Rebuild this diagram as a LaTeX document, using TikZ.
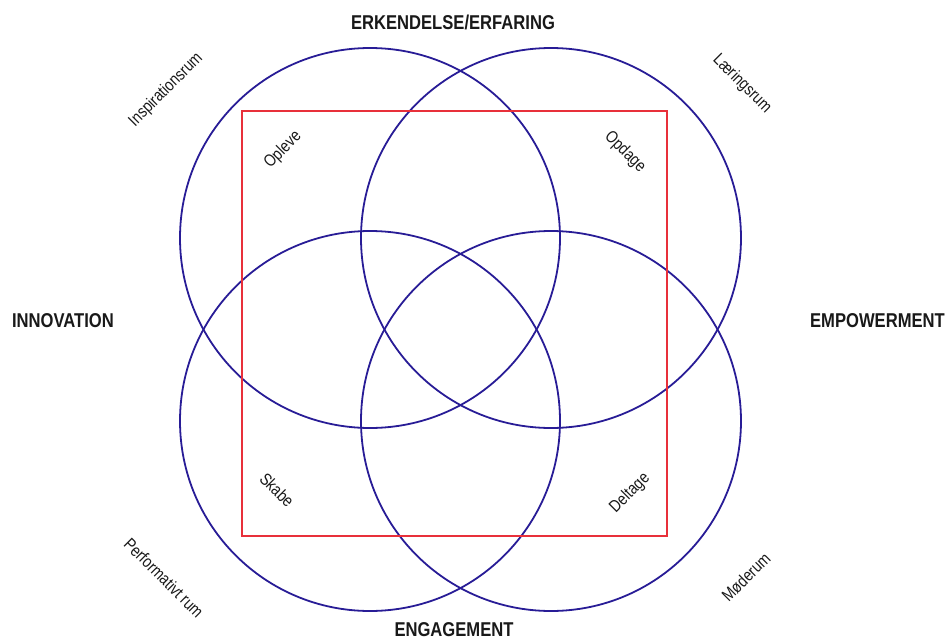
\documentclass[tikz,border=0pt]{standalone}
\usepackage{fontspec}
\newfontfamily\cond[FakeStretch=0.83]{Liberation Sans}
\definecolor{ringblue}{RGB}{40,28,150}
\definecolor{boxred}{RGB}{232,48,58}
\tikzset{
  ring/.style={circle, draw=ringblue, line width=1.8pt, minimum size=380pt, inner sep=0pt},
  frame/.style={draw=boxred, line width=1.2pt},
  head/.style={font=\cond\bfseries\fontsize{20}{22}\selectfont, text=black!90, inner sep=0pt},
  small/.style={font=\cond\fontsize{17}{19}\selectfont, text=black!90, inner sep=0pt},
}
\begin{document}
\begin{tikzpicture}[x=1pt,y=-1pt]
\useasboundingbox (0,0) rectangle (946,640);
\node[ring] (tl) at (370,238) {};
\node[ring] (tr) at (551,238) {};
\node[ring] (bl) at (370,421) {};
\node[ring] (br) at (551,421) {};
\draw[frame] (242,111) rectangle (667,536);
\node[head] (top) at (453,22) {ERKENDELSE/ERFARING};
\node[head] (left) at (63,321) {INNOVATION};
\node[head, anchor=east] (right) at (945,321) {EMPOWERMENT};
\node[head] (bottom) at (454,630) {ENGAGEMENT};
\node[small, rotate=45] (insp) at (166,90) {Inspirationsrum};
\node[small, rotate=-45] (laer) at (742,84) {Læringsrum};
\node[small, rotate=-45] (perf) at (164,578) {Performativt rum};
\node[small, rotate=45] (mode) at (746,577) {Møderum};
\node[small, rotate=45] (ople) at (283,150) {Opleve};
\node[small, rotate=-45] (opda) at (625,152) {Opdage};
\node[small, rotate=-45] (skab) at (277,490) {Skabe};
\node[small, rotate=45] (delt) at (630,493) {Deltage};
\end{tikzpicture}
\end{document}
